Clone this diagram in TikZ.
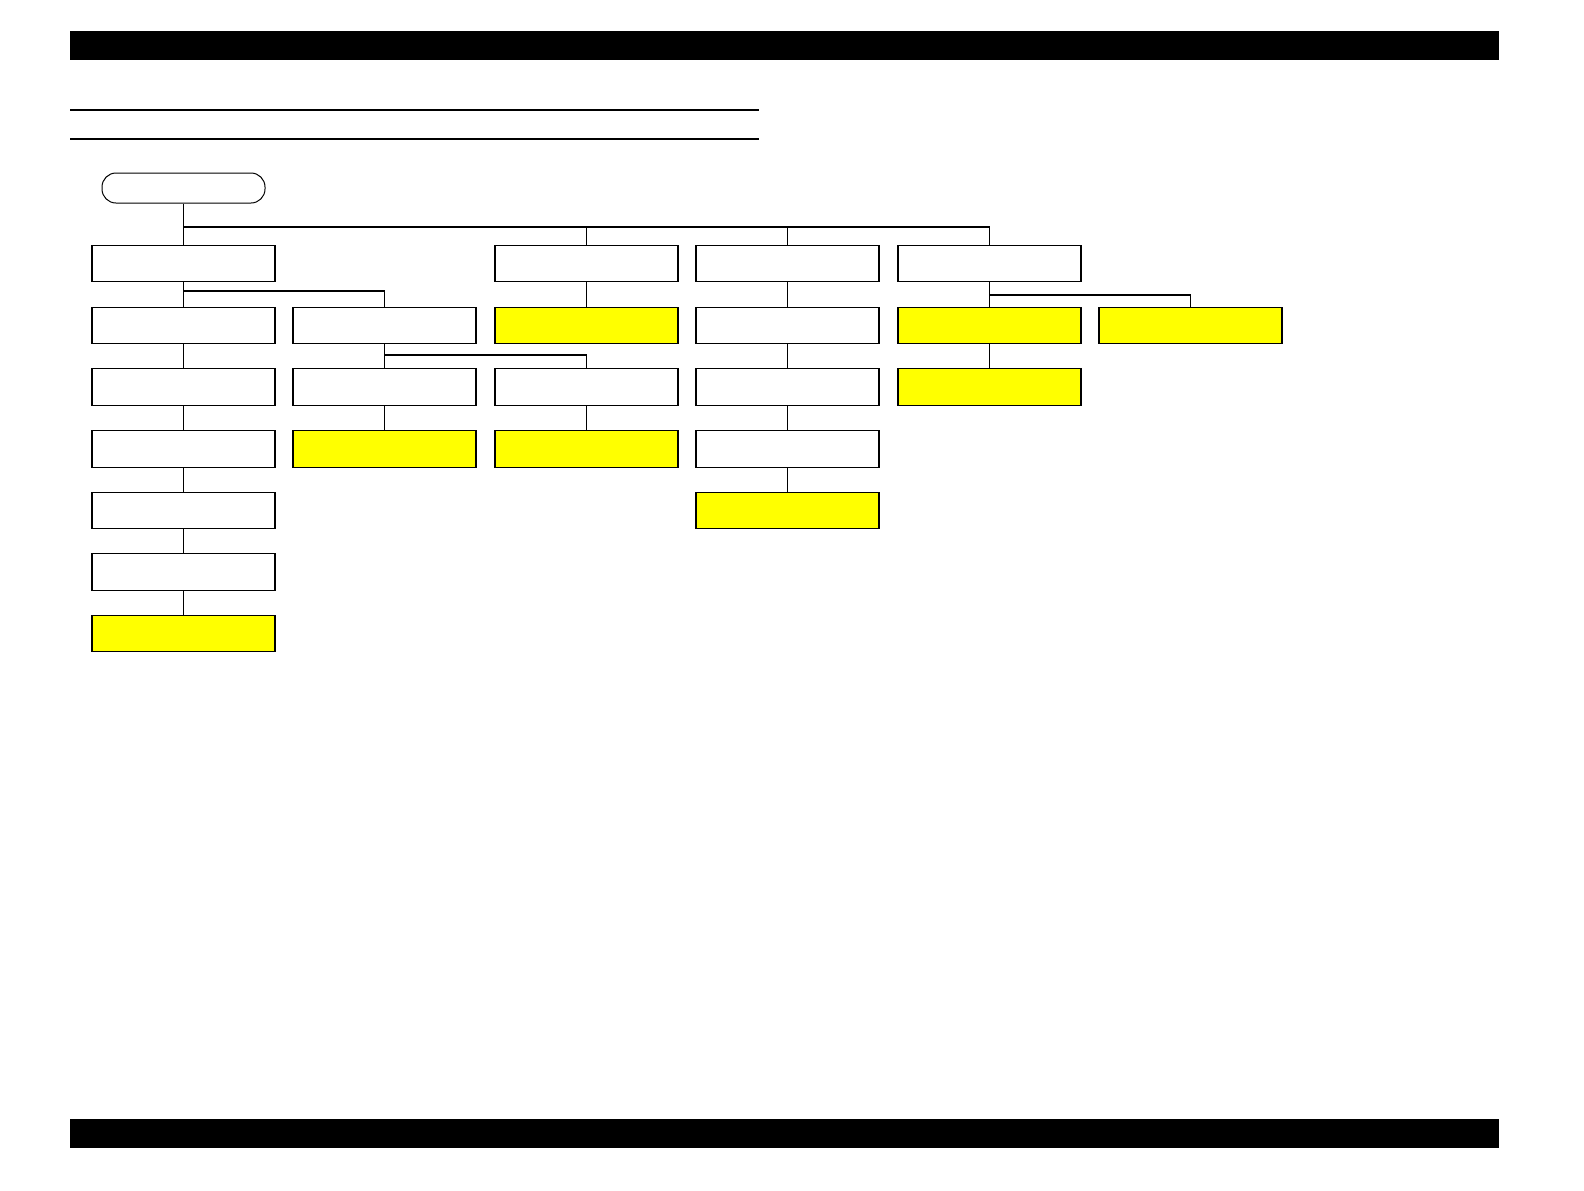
\documentclass[tikz,border=0pt]{standalone}
\definecolor{boxyellow}{RGB}{255,255,0}
\begin{document}
\begin{tikzpicture}[x=0.5pt,y=-0.5pt,
  box/.style={draw=black,line width=0.6pt,minimum width=91.5pt,minimum height=18.3pt,inner sep=0pt,fill=white},
  ybox/.style={box,fill=boxyellow},
  term/.style={draw=black,line width=0.5pt,minimum width=81.5pt,minimum height=15pt,inner sep=0pt,rounded corners=7pt},
  conn/.style={draw=black,line width=0.6pt},
  bar/.style={fill=black,draw=none},
  rule/.style={draw=black,line width=0.6pt}]
\useasboundingbox (0,0) rectangle (1584,1190);
% header / footer
\path[bar] (70,31) rectangle (1499,60);
\path[bar] (70,1119) rectangle (1499,1148);
\draw[rule] (70,110) -- (759,110);
\draw[rule] (70,139) -- (759,139);
% terminal
\node[term] (start) at (183.5,188) {};
% boxes
\node[box]  (c1r1) at (183.5,263.5) {};
\node[box]  (c1r2) at (183.5,325.5) {};
\node[box]  (c1r3) at (183.5,387) {};
\node[box]  (c1r4) at (183.5,449) {};
\node[box]  (c1r5) at (183.5,510.5) {};
\node[box]  (c1r6) at (183.5,572) {};
\node[ybox] (c1r7) at (183.5,633.5) {};
\node[box]  (c2r2) at (384.5,325.5) {};
\node[box]  (c2r3) at (384.5,387) {};
\node[ybox] (c2r4) at (384.5,449) {};
\node[box]  (c3r1) at (586.5,263.5) {};
\node[ybox] (c3r2) at (586.5,325.5) {};
\node[box]  (c3r3) at (586.5,387) {};
\node[ybox] (c3r4) at (586.5,449) {};
\node[box]  (c4r1) at (787.5,263.5) {};
\node[box]  (c4r2) at (787.5,325.5) {};
\node[box]  (c4r3) at (787.5,387) {};
\node[box]  (c4r4) at (787.5,449) {};
\node[ybox] (c4r5) at (787.5,510.5) {};
\node[box]  (c5r1) at (989.5,263.5) {};
\node[ybox] (c5r2) at (989.5,325.5) {};
\node[ybox] (c5r3) at (989.5,387) {};
\node[ybox] (c6r2) at (1190.5,325.5) {};
% branch points
\coordinate (t0) at (183.5,227);
\coordinate (b1) at (183.5,291);
\coordinate (b2) at (384.5,355);
\coordinate (b5) at (989.5,295);
% top connectors
\draw[conn] (start.south) -- (c1r1.north);
\draw[conn] (t0) -| (c5r1.north);
\draw[conn] (t0) -| (c3r1.north);
\draw[conn] (t0) -| (c4r1.north);
% column 1
\draw[conn] (c1r1.south) -- (c1r2.north);
\draw[conn] (b1) -| (c2r2.north);
\draw[conn] (c1r2) -- (c1r3);
\draw[conn] (c1r3) -- (c1r4);
\draw[conn] (c1r4) -- (c1r5);
\draw[conn] (c1r5) -- (c1r6);
\draw[conn] (c1r6) -- (c1r7);
% column 2
\draw[conn] (c2r2) -- (c2r3);
\draw[conn] (b2) -| (c3r3.north);
\draw[conn] (c2r3) -- (c2r4);
% column 3
\draw[conn] (c3r1) -- (c3r2);
\draw[conn] (c3r3) -- (c3r4);
% column 4
\draw[conn] (c4r1) -- (c4r2);
\draw[conn] (c4r2) -- (c4r3);
\draw[conn] (c4r3) -- (c4r4);
\draw[conn] (c4r4) -- (c4r5);
% column 5
\draw[conn] (c5r1) -- (c5r2);
\draw[conn] (b5) -| (c6r2.north);
\draw[conn] (c5r2) -- (c5r3);
\end{tikzpicture}
\end{document}
